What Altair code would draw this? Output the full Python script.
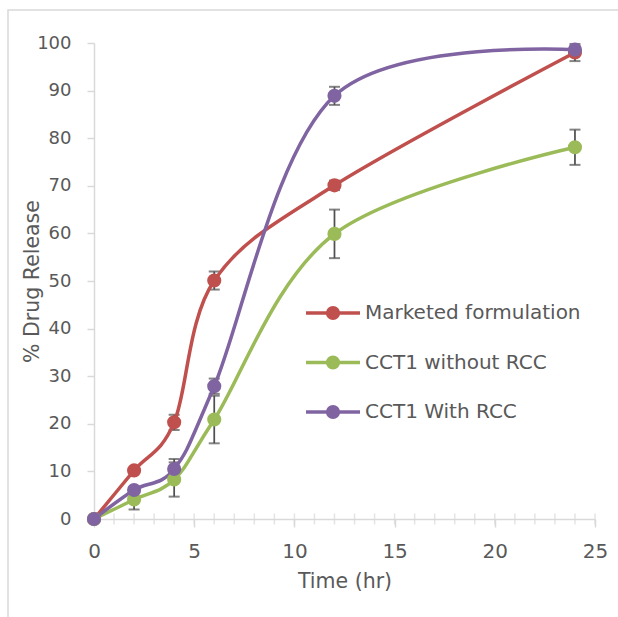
import altair as alt
import pandas as pd

# ---- data ----
time_hr = [0, 2, 4, 6, 12, 24]
series_names = ["Marketed formulation", "CCT1 without RCC", "CCT1 With RCC"]
marketed = [0, 10.2, 20.3, 50.1, 70.1, 98.0]
marketed_err = [0, 0.0, 1.6, 1.9, 1.0, 1.8]
without_rcc = [0, 4.1, 8.3, 20.9, 59.9, 78.1]
without_rcc_err = [0, 2.1, 3.6, 5.0, 5.1, 3.7]
with_rcc = [0, 6.1, 10.5, 27.9, 88.9, 98.6]
with_rcc_err = [0, 0.6, 2.1, 1.6, 1.9, 0.8]
colors = ["#C0504D", "#9BBB59", "#8064A2"]
x_major = [0, 5, 10, 15, 20, 25]
x_minor = list(range(0, 26))
y_ticks = list(range(0, 101, 10))

rows = []
for name, vals, errs in zip(series_names,
                            [marketed, without_rcc, with_rcc],
                            [marketed_err, without_rcc_err, with_rcc_err]):
    for t, v, e in zip(time_hr, vals, errs):
        rows.append({"series": name, "time": t, "value": v, "err": e,
                     "lo": v - e, "hi": v + e})
df = pd.DataFrame(rows)
df_err = df[df["err"] > 0]
df_minor = pd.DataFrame({"t": x_minor, "zero": [0] * len(x_minor)})

FONT = "DejaVu Sans"
TXT = "#595959"
AX = "#D9D9D9"

xscale = alt.Scale(domain=[0, 25], nice=False, zero=False)
yscale = alt.Scale(domain=[0, 100], nice=False)
cscale = alt.Scale(domain=series_names, range=colors)

x_enc = alt.X("time:Q", scale=xscale,
              axis=alt.Axis(values=x_major, title="Time (hr)", grid=False,
                            domainColor=AX, domainWidth=1.5, tickColor=AX,
                            tickWidth=1.5, tickSize=8, labelFontSize=20,
                            labelColor=TXT, labelFont=FONT, labelPadding=14,
                            labelFlush=False,
                            titleFont=FONT, titleFontSize=20.5, titleColor=TXT,
                            titleFontWeight="normal", titleY=62,
                            titleBaseline="middle"))
y_enc = alt.Y("value:Q", scale=yscale,
              axis=alt.Axis(values=y_ticks, title="% Drug Release", grid=False,
                            domainColor=AX, domainWidth=1.5, tickColor=AX,
                            tickWidth=1.5, tickSize=7, labelFontSize=18,
                            labelColor=TXT, labelFont=FONT, labelPadding=16,
                            labelFlush=False,
                            titleFont=FONT, titleFontSize=20.5, titleColor=TXT,
                            titleFontWeight="normal", titleX=-62, titleY=238,
                            titleAngle=270, titleAlign="center",
                            titleBaseline="middle"))

base = alt.Chart(df)
one = pd.DataFrame({"a": [0]})

border = alt.Chart(one).mark_rect(
    fill=None, stroke=AX, strokeWidth=1.5
).encode(x=alt.value(-86), x2=alt.value(620), y=alt.value(-33), y2=alt.value(700))

minor = alt.Chart(df_minor).mark_tick(
    orient="vertical", size=11, thickness=1.5, color=AX
).encode(x=alt.X("t:Q", scale=xscale), y=alt.Y("zero:Q", scale=yscale))

err_rule = alt.Chart(df_err).mark_rule(color="#505050", strokeWidth=1.75).encode(
    x=alt.X("time:Q", scale=xscale), y=alt.Y("lo:Q", scale=yscale), y2="hi:Q")
err_lo = alt.Chart(df_err).mark_tick(orient="horizontal", size=11, thickness=2,
                                     color="#505050").encode(
    x=alt.X("time:Q", scale=xscale), y=alt.Y("lo:Q", scale=yscale))
err_hi = alt.Chart(df_err).mark_tick(orient="horizontal", size=11, thickness=2,
                                     color="#505050").encode(
    x=alt.X("time:Q", scale=xscale), y=alt.Y("hi:Q", scale=yscale))

lines = base.mark_line(interpolate="cardinal", strokeWidth=3.5).encode(
    x=x_enc, y=y_enc,
    color=alt.Color("series:N", scale=cscale, legend=None),
    detail="series:N")

points = base.mark_point(filled=True, size=200, opacity=1).encode(
    x=alt.X("time:Q", scale=xscale),
    y=alt.Y("value:Q", scale=yscale),
    color=alt.Color("series:N", scale=cscale, legend=None))

# legend (line + marker + label), placed inside the plot area
legend_layers = []
for i, (name, col) in enumerate(zip(series_names, colors)):
    ypix = 270 + 49.5 * i
    legend_layers.append(alt.Chart(one).mark_rule(color=col, strokeWidth=3.5).encode(
        x=alt.value(212), x2=alt.value(266), y=alt.value(ypix)))
    legend_layers.append(alt.Chart(one).mark_point(
        filled=True, size=200, opacity=1, color=col).encode(
        x=alt.value(239), y=alt.value(ypix)))
    legend_layers.append(alt.Chart(one).mark_text(
        text=name, align="left", baseline="middle", font=FONT, fontSize=20,
        color=TXT).encode(x=alt.value(271), y=alt.value(ypix)))

chart = alt.layer(border, minor, err_rule, err_lo, err_hi, lines, points,
                  *legend_layers).properties(
    width=501, height=476,
    padding={"left": 94, "top": 43, "right": 23, "bottom": 98},
    autosize=alt.AutoSizeParams(type="none"),
    background="white",
).configure_view(stroke=None)

chart.save("out.html", embed_options={"renderer": "svg", "actions": False})
